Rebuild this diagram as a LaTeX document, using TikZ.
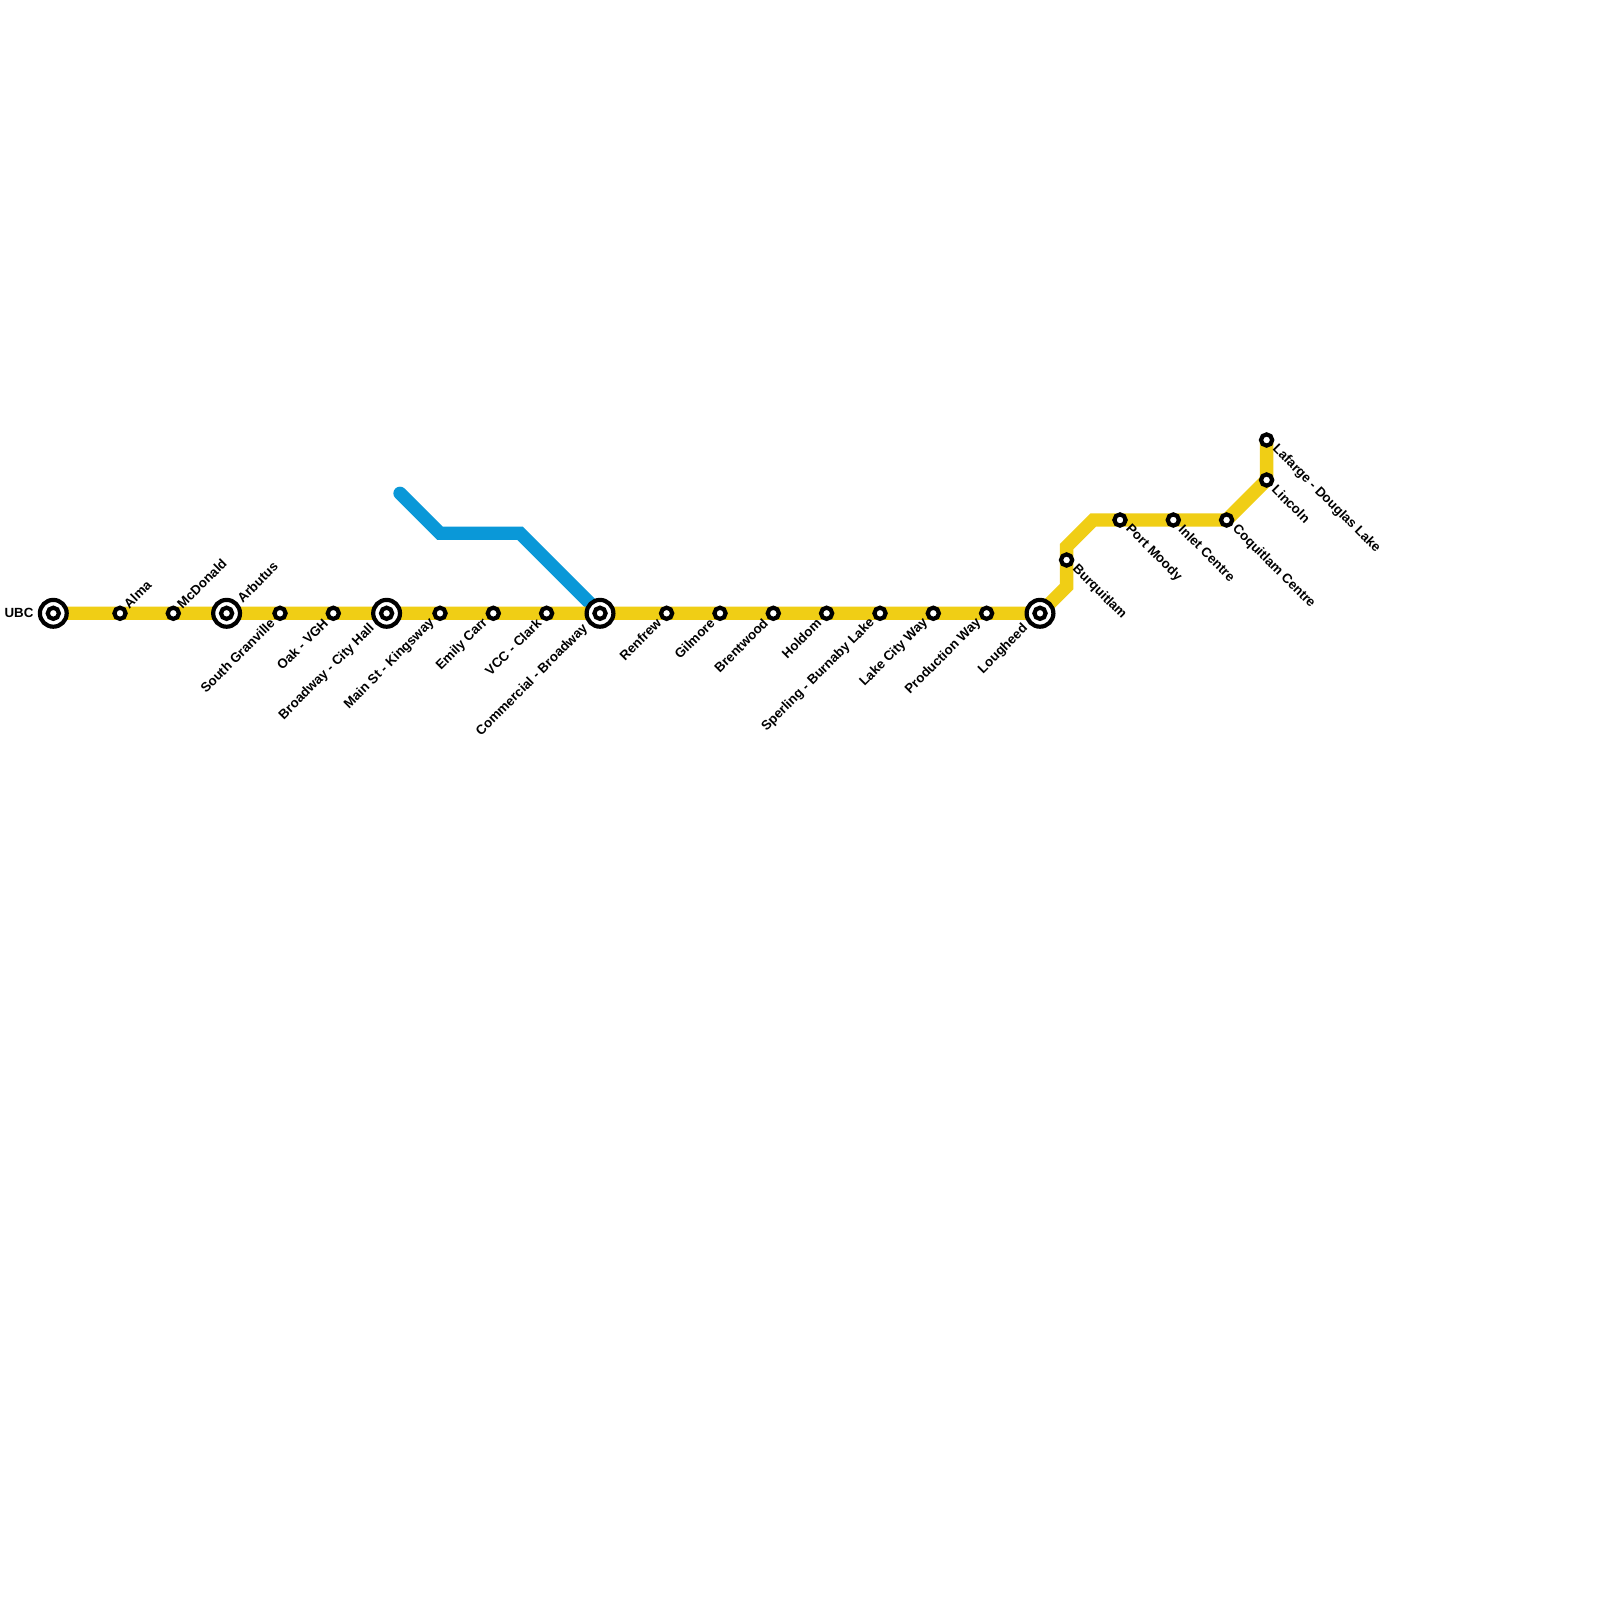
\documentclass[tikz,border=0pt]{standalone}
\usepackage{fontspec}
\usetikzlibrary{calc}
\setmainfont{Liberation Sans}
\definecolor{lineyellow}{HTML}{F0CE15}
\definecolor{lineblue}{HTML}{0A98D8}
\tikzset{
  x=0.5pt,y=-0.5pt,
  route/.style={line width=6.65pt,line join=miter},
  stn/.style={circle,draw=black,fill=white,line width=2.1pt,inner sep=0pt,outer sep=0pt,minimum size=5.6pt},
  hubouter/.style={circle,draw=black,fill=white,line width=2.1pt,inner sep=0pt,outer sep=0pt,minimum size=13.4pt},
  txt/.style={font=\bfseries\fontsize{6.65}{7}\selectfont,inner sep=0pt,text=black},
  ne/.style={txt,xshift=2.9pt,yshift=3.5pt,rotate=45,anchor=west},
  sw/.style={txt,xshift=-3.7pt,yshift=-3.7pt,rotate=45,anchor=east},
  se/.style={txt,xshift=3.8pt,yshift=-3.5pt,rotate=-45,anchor=west},
  hne/.style={txt,xshift=6.3pt,yshift=6.3pt,rotate=45,anchor=west},
  hsw/.style={txt,xshift=-7pt,yshift=-6.6pt,rotate=45,anchor=east},
}
\begin{document}
\begin{tikzpicture}
\useasboundingbox (0,0) rectangle (1600,1600);
\fill[white] (0,0) rectangle (1600,1600);
% route bends
\coordinate (b1) at (1066.6,586.6);
\coordinate (b2) at (1066.6,546.6);
\coordinate (b3) at (1093.3,520);
\coordinate (c1) at (400,493.3);
\coordinate (c2) at (440,533.3);
\coordinate (c3) at (520,533.3);
% station positions
\coordinate (ubc) at (53.3,613.3);
\coordinate (alma) at (120,613.3);
\coordinate (mcd) at (173.3,613.3);
\coordinate (arb) at (226.6,613.3);
\coordinate (sgr) at (280,613.3);
\coordinate (oak) at (333.3,613.3);
\coordinate (bch) at (386.6,613.3);
\coordinate (msk) at (440,613.3);
\coordinate (emc) at (493.3,613.3);
\coordinate (vcc) at (546.6,613.3);
\coordinate (cmb) at (600,613.3);
\coordinate (ren) at (666.6,613.3);
\coordinate (gil) at (720,613.3);
\coordinate (bre) at (773.3,613.3);
\coordinate (hol) at (826.6,613.3);
\coordinate (spe) at (880,613.3);
\coordinate (lcw) at (933.3,613.3);
\coordinate (pro) at (986.6,613.3);
\coordinate (lou) at (1040,613.3);
\coordinate (bur) at (1066.6,560);
\coordinate (pmo) at (1120,520);
\coordinate (inl) at (1173.3,520);
\coordinate (coq) at (1226.6,520);
\coordinate (lin) at (1266.6,480);
\coordinate (laf) at (1266.6,440);
% lines
\draw[route,lineblue,line cap=round] (c1) -- (c2) -- (c3) -- (cmb);
\draw[route,lineyellow] (ubc) -- (lou) -- (b1) -- (b2) -- (b3) -- (coq) -- (lin) -- (laf);
% stations
\foreach \s in {alma,mcd,sgr,oak,msk,emc,vcc,ren,gil,bre,hol,spe,lcw,pro,bur,pmo,inl,coq,lin,laf}
  \node[stn] (n\s) at (\s) {};
\foreach \s in {ubc,arb,bch,cmb,lou}{
  \node[hubouter] (n\s) at (\s) {};
  \node[stn] (m\s) at (\s) {};
}
% labels
\node[txt,anchor=east] (lubc) at ($(ubc)+(-19.5,0)$) {UBC};
\node[ne] (lalma) at (alma) {Alma};
\node[ne] (lmcd) at (mcd) {McDonald};
\node[hne] (larb) at (arb) {Arbutus};
\node[sw] (lsgr) at (sgr) {South Granville};
\node[sw] (loak) at (oak) {Oak - VGH};
\node[hsw] (lbch) at (bch) {Broadway - City Hall};
\node[sw] (lmsk) at (msk) {Main St - Kingsway};
\node[sw] (lemc) at (emc) {Emily Carr};
\node[sw] (lvcc) at (vcc) {VCC - Clark};
\node[hsw] (lcmb) at (cmb) {Commercial - Broadway};
\node[sw] (lren) at (ren) {Renfrew};
\node[sw] (lgil) at (gil) {Gilmore};
\node[sw] (lbre) at (bre) {Brentwood};
\node[sw] (lhol) at (hol) {Holdom};
\node[sw] (lspe) at (spe) {Sperling - Burnaby Lake};
\node[sw] (llcw) at (lcw) {Lake City Way};
\node[sw] (lpro) at (pro) {Production Way};
\node[hsw] (llou) at (lou) {Lougheed};
\node[se] (lbur) at (bur) {Burquitlam};
\node[se] (lpmo) at (pmo) {Port Moody};
\node[se] (linl) at (inl) {Inlet Centre};
\node[se] (lcoq) at (coq) {Coquitlam Centre};
\node[se] (llin) at (lin) {Lincoln};
\node[se] (llaf) at (laf) {Lafarge - Douglas Lake};
\end{tikzpicture}
\end{document}
